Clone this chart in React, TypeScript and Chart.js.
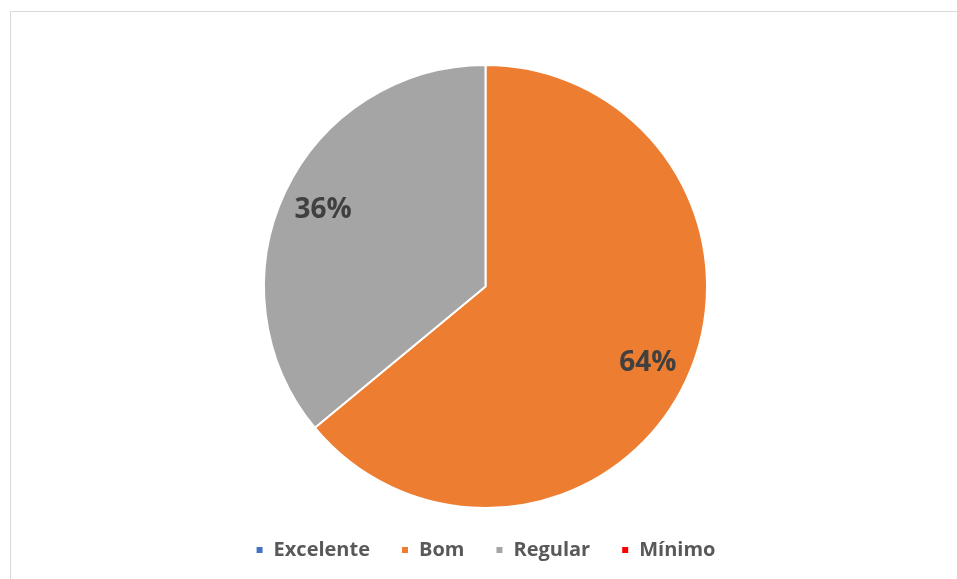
import React, { useEffect, useRef } from "react";
import { Chart, registerables } from "chart.js";

Chart.register(...registerables);

const categories = ["Excelente", "Bom", "Regular", "Mínimo"];
const values = [0, 64, 36, 0];
const colors = ["#4472C4", "#ED7D31", "#A5A5A5", "#FF0000"];

const labelPlugin = {
  id: "sliceLabels",
  afterDatasetsDraw(chart: any) {
    const ctx = chart.ctx;
    const meta = chart.getDatasetMeta(0);
    const data = chart.data.datasets[0].data as number[];
    const total = data.reduce((a, b) => a + b, 0);
    ctx.save();
    ctx.font = "bold 28px 'Open Sans'";
    ctx.fillStyle = "#404040";
    ctx.textAlign = "center";
    ctx.textBaseline = "middle";
    meta.data.forEach((arc: any, i: number) => {
      const v = data[i];
      if (!v) return;
      const p = arc.getProps(["startAngle", "endAngle", "outerRadius", "x", "y"], true);
      const mid = (p.startAngle + p.endAngle) / 2;
      const r = p.outerRadius * 0.81;
      const x = p.x + Math.cos(mid) * r;
      const y = p.y + Math.sin(mid) * r;
      ctx.fillText(Math.round((v / total) * 100) + "%", x, y);
    });
    ctx.restore();
  },
};

export default function App() {
  const ref = useRef<HTMLCanvasElement>(null);
  useEffect(() => {
    const chart = new Chart(ref.current!, {
      type: "pie",
      data: {
        labels: categories,
        datasets: [
          {
            data: values,
            backgroundColor: colors,
            borderColor: "#ffffff",
            borderWidth: 2,
          },
        ],
      },
      options: {
        animation: false,
        responsive: false,
        layout: { padding: { left: 14, right: 0, top: 64, bottom: 9 } },
        plugins: {
          tooltip: { enabled: false },
          legend: {
            position: "bottom",
            labels: {
              boxWidth: 8,
              boxHeight: 8,
              padding: 31,
              color: "#595959",
              font: { family: "'Open Sans'", size: 20, weight: "bold" },
            },
          },
        },
      },
      plugins: [labelPlugin],
    });
    return () => chart.destroy();
  }, []);
  return (
    <div style={{ position: "fixed", left: 0, top: 0, width: 957, height: 579, background: "#fff" }}>
      <div
        style={{
          position: "absolute",
          left: 10,
          top: 11,
          right: 0,
          bottom: 0,
          borderTop: "1px solid #d9d9d9",
          borderLeft: "1px solid #d9d9d9",
        }}
      />
      <canvas ref={ref} width={957} height={579} style={{ position: "absolute", left: 0, top: 0 }} />
    </div>
  );
}
